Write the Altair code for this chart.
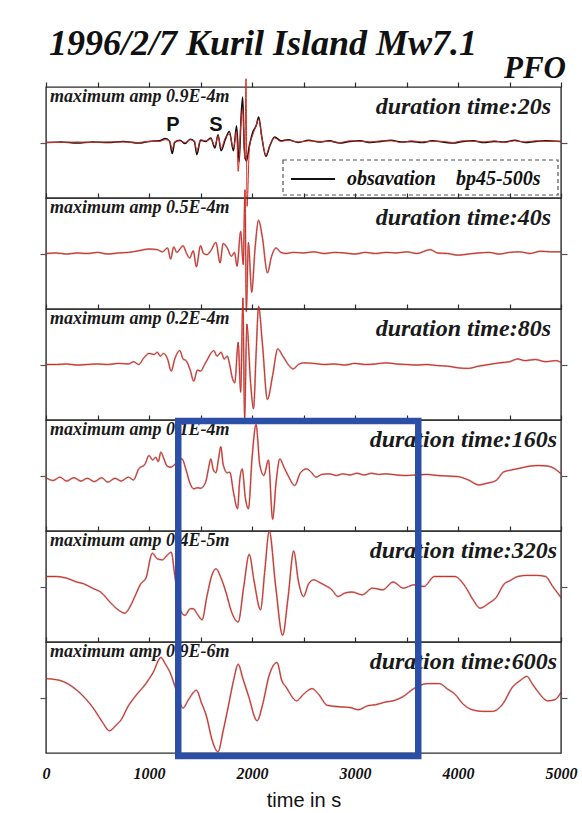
import altair as alt
import pandas as pd

# ---------------- data ----------------
AMP_LABELS = ["maximum amp 0.9E-4m", "maximum amp 0.5E-4m", "maximum amp 0.2E-4m",
              "maximum amp 0.1E-4m", "maximum amp 0.4E-5m", "maximum amp 0.9E-6m"]
DURATIONS = ["duration time:20s", "duration time:40s", "duration time:80s",
             "duration time:160s", "duration time:320s", "duration time:600s"]
X_TICKS = [0, 1000, 2000, 3000, 4000, 5000]
MINOR_TICKS = [0, 500, 1000, 1500, 2000, 2500, 3000, 3500, 4000, 4500, 5000]
PHASES = ["P", "S"]
PHASE_T = [1233, 1650]
BOX_T = [1284, 3614]

P1_OBS = [(0, 0.0), (150, 0.01), (300, -0.01), (450, 0.01), (600, 0.0), (750, 0.02), (900, -0.01),
          (1000, 0.02), (1100, 0.03), (1160, 0.07), (1200, 0.02), (1225, -0.2), (1250, 0.0),
          (1300, 0.04), (1350, -0.02), (1400, 0.06), (1440, 0.02), (1465, -0.22), (1500, 0.04),
          (1550, 0.02), (1600, 0.08), (1640, -0.1), (1670, 0.14), (1700, -0.15), (1740, 0.05),
          (1780, 0.2), (1820, -0.15), (1850, 0.3), (1875, -0.35), (1895, 0.5), (1910, 0.82),
          (1925, -0.1), (1945, -0.34), (1975, -0.05), (2010, 0.2), (2040, 0.3), (2065, 0.46),
          (2095, 0.1), (2135, -0.25), (2175, -0.05), (2220, 0.1), (2280, 0.03), (2350, 0.05),
          (2450, 0.0), (2550, 0.04), (2650, 0.01), (2750, 0.03), (2850, -0.01), (2950, 0.02),
          (3050, 0.03), (3150, 0.0), (3250, 0.02), (3350, 0.04), (3450, 0.01), (3550, 0.02),
          (3650, 0.0), (3750, 0.03), (3850, 0.01), (3950, -0.01), (4050, 0.02), (4150, 0.03),
          (4250, 0.0), (4350, 0.02), (4450, 0.01), (4550, 0.04), (4650, 0.0), (4750, 0.02),
          (4850, 0.03), (5000, 0.02)]
P1_SYN = [(0, 0.0), (150, 0.0), (300, 0.01), (450, 0.0), (600, 0.01), (750, 0.01), (900, 0.0),
          (1000, 0.02), (1100, 0.02), (1160, 0.05), (1200, 0.03), (1225, -0.12), (1250, 0.02),
          (1300, 0.03), (1350, 0.0), (1400, 0.05), (1440, 0.03), (1465, -0.15), (1500, 0.05),
          (1550, 0.03), (1600, 0.06), (1640, -0.06), (1670, 0.12), (1700, -0.1), (1740, 0.08),
          (1780, 0.15), (1820, -0.1), (1850, 0.2), (1866, -0.52), (1890, 0.3), (1910, 0.6),
          (1930, -0.3), (1942, 1.15), (1952, -1.15), (1975, -0.1), (2010, 0.15), (2040, 0.3),
          (2065, 0.42), (2095, 0.1), (2135, -0.22), (2175, -0.04), (2220, 0.08), (2280, 0.02),
          (2350, 0.04), (2450, 0.01), (2550, 0.03), (2650, 0.02), (2750, 0.02), (2850, 0.0),
          (2950, 0.03), (3050, 0.02), (3150, 0.01), (3250, 0.03), (3350, 0.03), (3450, 0.0),
          (3550, 0.03), (3650, 0.01), (3750, 0.02), (3850, 0.02), (3950, 0.0), (4050, 0.03),
          (4150, 0.02), (4250, 0.01), (4350, 0.03), (4450, 0.0), (4550, 0.03), (4650, 0.01),
          (4750, 0.03), (4850, 0.02), (5000, 0.02)]
P2_SYN = [(0, 0.0), (100, 0.01), (200, -0.01), (300, 0.01), (400, 0.0), (500, 0.02), (600, -0.01),
          (700, 0.01), (800, 0.02), (900, 0.05), (1000, 0.08), (1080, 0.07), (1130, 0.03),
          (1180, 0.1), (1210, -0.1), (1240, 0.12), (1270, 0.02), (1300, 0.08), (1330, 0.14),
          (1365, 0.0), (1395, -0.08), (1430, 0.05), (1460, -0.24), (1500, 0.14), (1530, 0.0),
          (1563, -0.02), (1600, 0.05), (1650, 0.2), (1690, -0.17), (1720, 0.18), (1760, 0.1),
          (1800, -0.05), (1830, 0.02), (1855, -0.23), (1890, 0.4), (1915, -0.2), (1932, 1.15),
          (1945, -1.05), (1965, 0.2), (1997, -0.7), (2030, 0.1), (2064, 0.6), (2100, 0.3),
          (2150, -0.35), (2190, -0.05), (2233, 0.1), (2280, 0.02), (2330, 0.0), (2400, 0.02),
          (2500, 0.01), (2600, 0.03), (2700, 0.0), (2800, 0.02), (2900, 0.01), (3000, -0.01),
          (3100, 0.02), (3200, 0.0), (3300, 0.02), (3400, 0.01), (3500, 0.03), (3600, 0.0),
          (3730, 0.07), (3800, 0.01), (3900, 0.0), (4000, -0.03), (4100, -0.01), (4200, 0.01),
          (4300, 0.02), (4400, -0.01), (4500, 0.02), (4600, 0.03), (4700, 0.0), (4800, 0.04),
          (4900, 0.03), (5000, 0.03)]
P3_SYN = [(0, 0.0), (100, 0.0), (200, 0.01), (300, -0.01), (400, 0.0), (500, 0.01), (600, 0.0),
          (700, 0.02), (800, 0.01), (850, 0.05), (900, 0.0), (950, 0.12), (1000, 0.2), (1050, 0.18),
          (1080, 0.22), (1110, 0.15), (1140, 0.2), (1180, 0.1), (1216, -0.12), (1250, 0.1),
          (1300, 0.25), (1330, 0.1), (1360, 0.07), (1400, -0.1), (1434, -0.3), (1470, -0.1),
          (1500, -0.12), (1540, 0.0), (1570, 0.1), (1600, 0.2), (1630, 0.25), (1660, 0.15),
          (1700, 0.22), (1730, 0.1), (1760, 0.15), (1783, 0.0), (1810, -0.25), (1833, -0.33),
          (1866, 0.4), (1890, -0.5), (1912, 1.2), (1928, -1.0), (1950, 0.73), (1985, -0.3),
          (2015, -0.8), (2040, 0.2), (2064, 1.05), (2100, 0.4), (2150, -0.63), (2200, -0.2),
          (2250, 0.28), (2300, 0.15), (2360, -0.02), (2400, -0.08), (2450, 0.0), (2500, 0.03),
          (2600, 0.02), (2700, 0.0), (2800, 0.01), (2900, -0.01), (3000, 0.02), (3100, 0.0),
          (3200, 0.01), (3300, 0.03), (3400, 0.01), (3500, 0.0), (3600, -0.01), (3700, 0.0),
          (3800, -0.02), (3900, -0.03), (4000, -0.06), (4100, -0.07), (4200, -0.03), (4300, 0.0),
          (4400, 0.03), (4500, 0.05), (4580, 0.1), (4650, 0.07), (4750, 0.09), (4850, 0.05),
          (4950, 0.07), (5000, 0.04)]
P4_SYN = [(0, -0.04), (70, -0.09), (135, -0.03), (200, -0.1), (270, -0.04), (340, -0.1),
          (400, -0.05), (470, -0.11), (540, -0.04), (600, -0.12), (670, -0.05), (730, -0.1),
          (800, -0.03), (850, -0.08), (900, 0.12), (960, 0.2), (1000, 0.36), (1035, 0.28),
          (1065, 0.33), (1090, 0.25), (1115, 0.42), (1145, 0.3), (1175, 0.17), (1215, 0.15),
          (1250, 0.2), (1320, 0.3), (1360, 0.1), (1400, -0.15), (1435, -0.24), (1470, -0.22),
          (1500, -0.23), (1550, -0.12), (1575, 0.1), (1600, 0.3), (1625, 0.1), (1650, 0.05),
          (1675, 0.3), (1697, 0.52), (1720, 0.2), (1760, 0.05), (1785, 0.06), (1820, -0.3),
          (1860, -0.6), (1880, -0.1), (1905, 0.12), (1935, -0.4), (1966, -0.6), (2000, 0.3),
          (2040, 0.92), (2075, 0.2), (2115, 0.0), (2160, 0.28), (2200, -0.79), (2235, -0.1),
          (2270, 0.3), (2310, 0.15), (2350, 0.0), (2415, -0.18), (2470, 0.05), (2530, 0.12),
          (2580, 0.05), (2620, -0.03), (2680, 0.02), (2750, 0.03), (2820, 0.0), (2880, 0.03),
          (2950, 0.01), (3020, 0.04), (3090, 0.01), (3160, 0.04), (3230, 0.02), (3300, 0.03),
          (3400, 0.01), (3500, 0.0), (3600, 0.01), (3700, 0.02), (3800, 0.0), (3900, -0.01),
          (4000, -0.02), (4100, -0.08), (4200, -0.17), (4280, -0.14), (4370, -0.09), (4440, 0.06),
          (4520, 0.1), (4600, 0.13), (4700, 0.17), (4780, 0.18), (4870, 0.17), (4940, 0.12),
          (5000, 0.03)]
P5_SYN = [(0, 0.18), (100, 0.18), (200, 0.15), (300, 0.08), (364, 0.05), (450, -0.03), (530, -0.1),
          (630, -0.3), (700, -0.42), (766, -0.48), (820, -0.35), (870, -0.15), (920, 0.05),
          (970, 0.15), (1032, 0.6), (1080, 0.5), (1130, 0.48), (1170, 0.55), (1216, 0.62),
          (1250, 0.2), (1280, -0.18), (1310, -0.45), (1350, -0.52), (1400, -0.4), (1430, -0.4),
          (1470, -0.5), (1516, -0.6), (1560, -0.2), (1610, 0.2), (1650, 0.32), (1700, 0.15),
          (1750, -0.12), (1800, -0.45), (1866, -0.64), (1920, 0.0), (1973, 0.58), (2020, 0.1),
          (2083, -0.42), (2125, 0.3), (2167, 1.0), (2230, 0.0), (2297, -0.88), (2350, -0.2),
          (2405, 0.64), (2450, 0.1), (2500, -0.18), (2550, 0.05), (2600, 0.12), (2650, 0.08),
          (2700, 0.03), (2770, -0.05), (2835, -0.18), (2900, -0.12), (2970, -0.1), (3070, -0.15),
          (3170, -0.03), (3270, -0.06), (3370, 0.08), (3470, -0.03), (3570, 0.03), (3670, 0.0),
          (3770, 0.18), (3870, 0.18), (3970, 0.18), (4070, 0.0), (4150, -0.25), (4215, -0.39),
          (4300, -0.3), (4370, -0.2), (4450, 0.05), (4500, 0.1), (4580, 0.18), (4670, 0.2),
          (4760, 0.2), (4850, 0.18), (4920, 0.0), (5000, -0.2)]
P6_SYN = [(0, 0.34), (130, 0.31), (300, 0.13), (470, -0.22), (550, -0.45), (615, -0.6), (680, -0.5),
          (730, -0.4), (800, -0.15), (870, 0.03), (970, 0.25), (1040, 0.45), (1115, 0.72),
          (1160, 0.6), (1200, 0.47), (1265, 0.13), (1330, -0.19), (1380, -0.05), (1460, 0.13),
          (1510, -0.1), (1560, -0.35), (1610, -0.75), (1670, -0.98), (1720, -0.6), (1770, -0.16),
          (1820, 0.3), (1866, 0.6), (1910, 0.35), (1966, 0.03), (2050, -0.42), (2100, -0.15),
          (2167, 0.4), (2243, 0.63), (2290, 0.3), (2330, 0.19), (2433, -0.06), (2500, 0.06),
          (2583, 0.16), (2650, 0.05), (2730, -0.14), (2870, -0.17), (2950, -0.18), (3033, -0.22),
          (3120, -0.15), (3200, -0.13), (3300, -0.08), (3370, -0.06), (3470, 0.02), (3570, 0.16),
          (3700, 0.25), (3820, 0.25), (3900, 0.15), (3970, 0.06), (4050, -0.12), (4135, -0.22),
          (4240, -0.25), (4335, -0.25), (4430, -0.13), (4530, 0.19), (4600, 0.3), (4670, 0.38),
          (4720, 0.25), (4770, 0.12), (4870, -0.06), (4940, -0.04), (5000, 0.09)]

SYN = [P1_SYN, P2_SYN, P3_SYN, P4_SYN, P5_SYN, P6_SYN]

# ---------------- styling ----------------
W, H = 515, 111
SERIF = "Liberation Serif"
SANS = "Liberation Sans"
RED = "#d42a22"
FRAME = "#2b2b2b"

xs = alt.Scale(domain=[0, 5000], nice=False, zero=False)
ys = alt.Scale(domain=[-1, 1], nice=False, zero=False)

top_axis = alt.Axis(orient="top", values=MINOR_TICKS, labels=False, ticks=True, tickSize=5,
                    tickWidth=1.2, tickColor=FRAME, domain=False, grid=False, title=None)
left_axis = alt.Axis(orient="left", values=[0], labels=False, ticks=True, tickSize=6,
                     tickWidth=1.2, tickColor="#555", domain=False, grid=False, title=None)
right_axis = alt.Axis(orient="right", values=[0], labels=False, ticks=True, tickSize=6,
                      tickWidth=1.2, tickColor="#555", domain=False, grid=False, title=None)
bottom_axis = alt.Axis(orient="bottom", values=X_TICKS, format="d", labels=True, labelFont=SERIF,
                       labelFontStyle="italic", labelFontWeight="bold", labelFontSize=16,
                       labelColor="#111", labelFlush=False, labelPadding=12, ticks=False,
                       domain=False, grid=False, title="time in s", titleFont=SANS,
                       titleFontSize=20, titleFontWeight="normal", titleColor="#111",
                       titlePadding=9)


def to_df(pairs):
    return pd.DataFrame(pairs, columns=["t", "v"])


def line_layer(df, color, width, opacity=1.0, axes=False):
    return alt.Chart(df).mark_line(color=color, strokeWidth=width, opacity=opacity,
                                   interpolate="monotone").encode(
        x=alt.X("t:Q", scale=xs, axis=top_axis if axes else None),
        y=alt.Y("v:Q", scale=ys, axis=left_axis if axes else None),
    )


def one_row(**kw):
    return pd.DataFrame({k: [v] for k, v in kw.items()})


def panel(i):
    layers = []
    syn = to_df(SYN[i])
    if i == 0:
        layers.append(line_layer(to_df(P1_OBS), "#111111", 1.5, axes=True))
        layers.append(line_layer(syn, RED, 1.0))
    else:
        layers.append(line_layer(syn, "#6b1010", 1.9, opacity=0.35, axes=True))
        layers.append(line_layer(syn, RED, 1.0))

    # amplitude + duration labels
    layers.append(alt.Chart(one_row(label=AMP_LABELS[i])).mark_text(
        align="left", baseline="alphabetic", font=SERIF, fontStyle="italic", fontWeight="bold",
        fontSize=18, color="#1a1a1a").encode(text="label:N", x=alt.value(4), y=alt.value(15)))
    layers.append(alt.Chart(one_row(label=DURATIONS[i])).mark_text(
        align="right", baseline="alphabetic", font=SERIF, fontStyle="italic", fontWeight="bold",
        fontSize=24, color="#1a1a1a").encode(text="label:N",
                                             x=alt.value(505 if i < 3 else 511), y=alt.value(27)))

    if i == 0:
        # title and station
        layers.append(alt.Chart(one_row(label="1996/2/7 Kuril Island Mw7.1")).mark_text(
            align="left", baseline="alphabetic", font=SERIF, fontStyle="italic", fontWeight="bold",
            fontSize=36, color="#111").encode(text="label:N", x=alt.value(3), y=alt.value(-32)))
        layers.append(alt.Chart(one_row(label="PFO")).mark_text(
            align="right", baseline="alphabetic", font=SERIF, fontStyle="italic", fontWeight="bold",
            fontSize=31, color="#111").encode(text="label:N", x=alt.value(520), y=alt.value(-9)))
        # P / S phase labels
        layers.append(alt.Chart(pd.DataFrame({"t": PHASE_T, "v": [0.32, 0.32], "lab": PHASES}))
                      .mark_text(font=SANS, fontWeight="bold", fontSize=20, color="#111",
                                 baseline="middle")
                      .encode(x=alt.X("t:Q", scale=xs, axis=None),
                              y=alt.Y("v:Q", scale=ys, axis=None), text="lab:N"))
        # legend box
        layers.append(alt.Chart(one_row(a=0)).mark_rect(
            fill="white", stroke="#555", strokeWidth=1.2, strokeDash=[4, 3]).encode(
            x=alt.value(237), x2=alt.value(512), y=alt.value(73), y2=alt.value(108)))
        layers.append(alt.Chart(one_row(a=0)).mark_rule(color="#111", strokeWidth=2).encode(
            x=alt.value(245), x2=alt.value(289), y=alt.value(92)))
        layers.append(alt.Chart(one_row(label="obsavation")).mark_text(
            align="left", baseline="alphabetic", font=SERIF, fontStyle="italic", fontWeight="bold",
            fontSize=20, color="#111").encode(text="label:N", x=alt.value(301), y=alt.value(98)))
        layers.append(alt.Chart(one_row(label="bp45-500s")).mark_text(
            align="left", baseline="alphabetic", font=SERIF, fontStyle="italic", fontWeight="bold",
            fontSize=20, color="#111").encode(text="label:N", x=alt.value(410), y=alt.value(98)))

    if i == 5:
        # blue highlight box spanning the three long-period panels
        layers.append(alt.Chart(pd.DataFrame({"t0": [BOX_T[0]], "t1": [BOX_T[1]]})).mark_rect(
            fill="transparent", stroke="#2b4ea6", strokeWidth=6.5).encode(
            x=alt.X("t0:Q", scale=xs, axis=None), x2="t1:Q",
            y=alt.value(-221), y2=alt.value(114)))

    # helper layer for right-hand (and bottom) axis
    layers.append(alt.Chart(one_row(t=0, v=0)).mark_point(opacity=0).encode(
        x=alt.X("t:Q", scale=xs, axis=bottom_axis if i == 5 else None),
        y=alt.Y("v:Q", scale=ys, axis=right_axis)))

    return alt.layer(*layers).resolve_axis(x="independent", y="independent").properties(
        width=W, height=H)


chart = alt.vconcat(*[panel(i) for i in range(6)], spacing=0, bounds="flush").configure_view(
    stroke=FRAME, strokeWidth=1.4).properties(
    background="white", padding={"left": 38, "top": 25, "right": 0, "bottom": 0})

chart.save("out.html", embed_options={"renderer": "svg", "actions": False})
